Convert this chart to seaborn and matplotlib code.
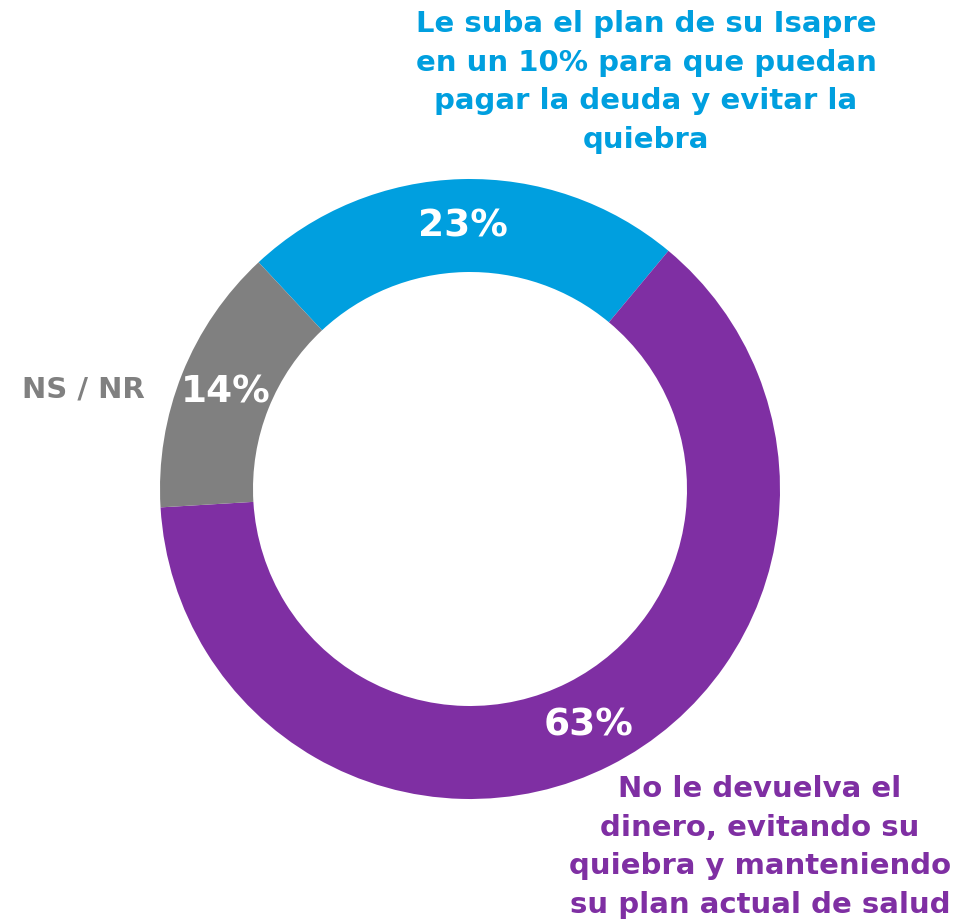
"""
Donut chart: opinion on Isapre debt options.
"""

import matplotlib
matplotlib.use("Agg")
import matplotlib.pyplot as plt
import seaborn as sns

# data
categories = [
    "Le suba el plan de su Isapre\nen un 10% para que puedan\npagar la deuda y evitar la\nquiebra",
    "No le devuelva el\ndinero, evitando su\nquiebra y manteniendo\nsu plan actual de salud",
    "NS / NR",
]
values = [23, 63, 14]
colors = ["#009FDF", "#7F2FA3", "#808080"]

sns.set_theme(style="white")
plt.rcParams["font.family"] = ["DejaVu Sans"]

W, H = 961, 920
fig = plt.figure(figsize=(W / 100, H / 100), dpi=100)

# square axes centred at (470, 490) px, outer radius 310 px
cx, cy, half = 470, 490, 350
ax = fig.add_axes([(cx - half) / W, (H - cy - half) / H, 2 * half / W, 2 * half / H])
lim = half / 310
ax.axis("off")

ring = 0.3
wedges, _, autotexts = ax.pie(
    values,
    colors=colors,
    startangle=133,
    counterclock=False,
    radius=1,
    wedgeprops=dict(width=ring, edgecolor="none"),
    autopct=lambda p: f"{p:.0f}%",
    pctdistance=1 - ring / 2,
    textprops=dict(color="white", fontsize=27, fontweight="bold"),
)
ax.set_xlim(-lim, lim)
ax.set_ylim(-lim, lim)
ax.set_aspect("equal")

# outside labels (pixel positions converted to figure fraction)
def put(text, x, y, color, ha="center"):
    fig.text(x / W, 1 - y / H, text, color=color, fontsize=21, fontweight="bold",
             ha=ha, va="center", linespacing=1.47)

put(categories[0], 646, 82, colors[0])
put(categories[1], 760, 847, colors[1])
put(categories[2], 83, 390, colors[2])

plt.savefig("out.png", dpi=100)
